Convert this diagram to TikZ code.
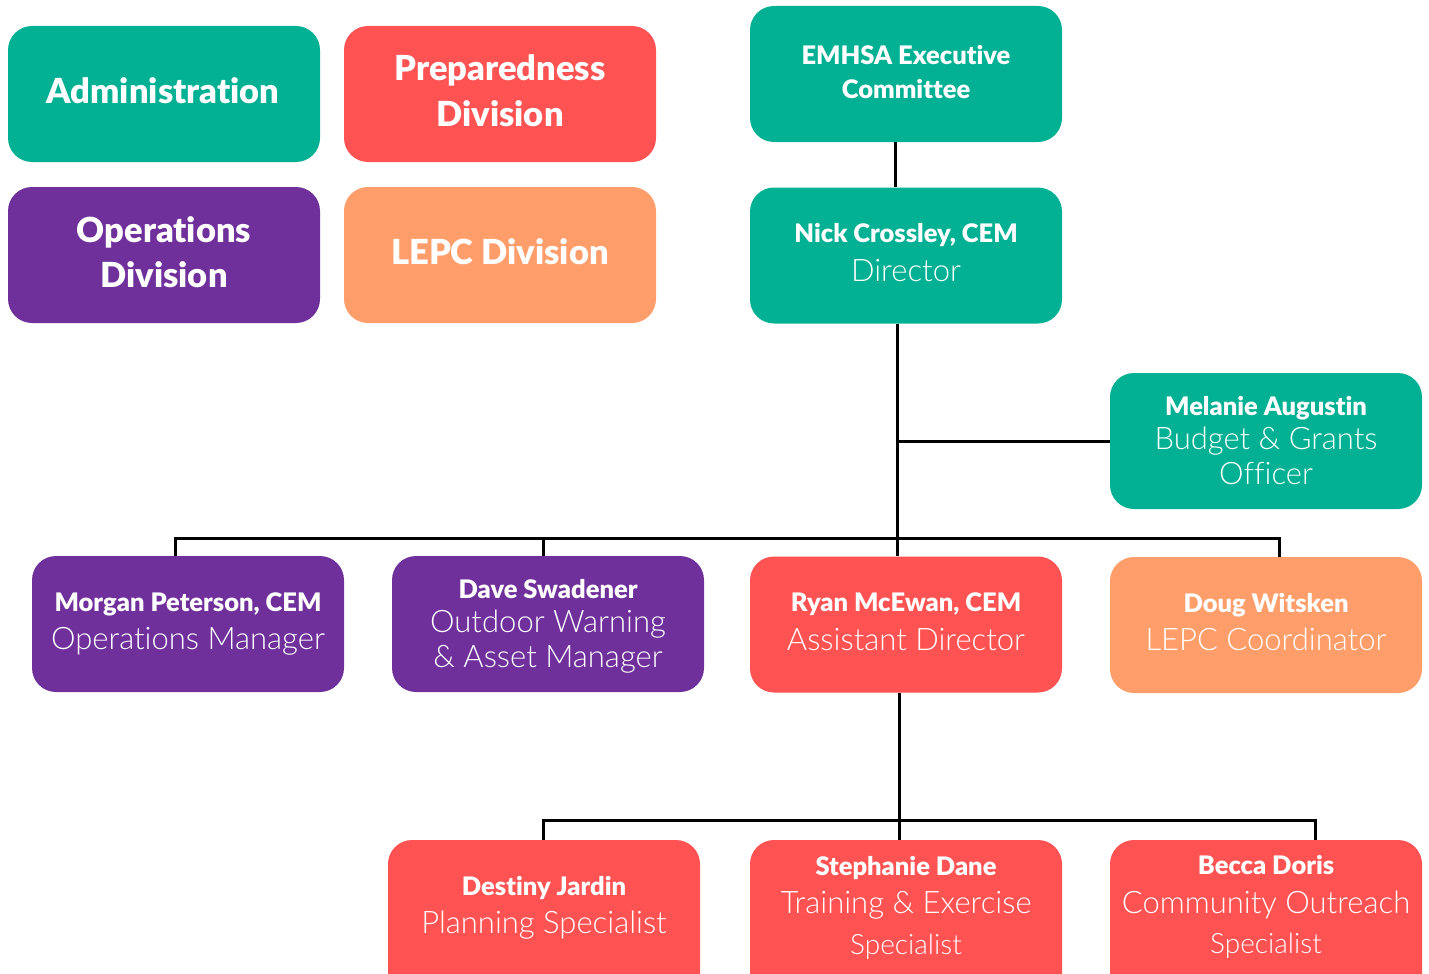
\documentclass[tikz,border=0pt]{standalone}
\usepackage{fontspec}
\setmainfont{Lato}[Ligatures=NoCommon]
\newfontfamily\lt{Lato Light}[Ligatures=NoCommon]
\newfontfamily\bk{Lato Black}[Ligatures=NoCommon]
\definecolor{teal}{HTML}{02B194}
\definecolor{coral}{HTML}{FF5252}
\definecolor{plum}{HTML}{70309C}
\definecolor{peach}{HTML}{FF9E6A}
\tikzset{
  box/.style={rounded corners=24pt, minimum width=312pt, minimum height=136pt, inner sep=0pt, draw=none},
  tx/.style={text=white, inner sep=0pt, anchor=base},
  big/.style={tx, font=\fontsize{34.5}{34.5}\selectfont\bk},
  nm/.style={tx, font=\fontsize{25.5}{25.5}\selectfont\bk},
  rl/.style={tx, font=\fontsize{31}{31}\selectfont\lt},
  sm/.style={tx, font=\fontsize{28}{28}\selectfont\lt},
  conn/.style={line width=3pt, black}
}
\begin{document}
\begin{tikzpicture}[x=1pt,y=-1pt]
\useasboundingbox (0,0) rectangle (1429,974);
\clip (0,0) rectangle (1429,974);
% boxes
\node[box, fill=teal] (adm) at (164,94) {};
\node[box, fill=coral] (prep) at (500,94) {};
\node[box, fill=plum] (ops) at (164,255) {};
\node[box, fill=peach] (lepc) at (500,255) {};
\node[box, fill=teal] (emhsa) at (906,74) {};
\node[box, fill=teal] (nick) at (906,255.5) {};
\node[box, fill=teal] (mel) at (1266,441) {};
\node[box, fill=plum] (morgan) at (188,624) {};
\node[box, fill=plum] (dave) at (548,624) {};
\node[box, fill=coral] (ryan) at (906,624.5) {};
\node[box, fill=peach] (doug) at (1266,625) {};
\node[box, fill=coral, minimum height=160pt] (destiny) at (544,920) {};
\node[box, fill=coral, minimum height=160pt] (steph) at (906,920) {};
\node[box, fill=coral, minimum height=160pt] (becca) at (1266,920) {};
% texts
\node[big] (admT) at (163,103) {Administration};
\node[big] (prepT1) at (500,81) {Preparedness};
\node[big] (prepT2) at (500,126) {Division};
\node[big] (opsT1) at (164,242) {Operations};
\node[big] (opsT2) at (164,287) {Division};
\node[big] (lepcT) at (500,264) {LEPC Division};
\node[nm] (emT1) at (906,64) {EMHSA Executive};
\node[nm] (emT2) at (906,98) {Committee};
\node[nm] (nickT1) at (906,242) {Nick Crossley, CEM};
\node[rl] (nickT2) at (906,281) {Director};
\node[nm] (melT1) at (1266,415) {Melanie Augustin};
\node[rl] (melT2) at (1266,449) {Budget \& Grants};
\node[rl] (melT3) at (1266,484) {Officer};
\node[nm] (morT1) at (188,611) {Morgan Peterson, CEM};
\node[rl] (morT2) at (188,649) {Operations Manager};
\node[nm] (davT1) at (548,598) {Dave Swadener};
\node[rl] (davT2) at (548,632) {Outdoor Warning};
\node[rl] (davT3) at (548,667) {\& Asset Manager};
\node[nm] (ryaT1) at (906,611) {Ryan McEwan, CEM};
\node[rl] (ryaT2) at (906,650) {Assistant Director};
\node[nm] (douT1) at (1266,612) {Doug Witsken};
\node[rl] (douT2) at (1266,650) {LEPC Coordinator};
\node[nm] (desT1) at (544,895) {Destiny Jardin};
\node[rl] (desT2) at (544,933) {Planning Specialist};
\node[nm] (steT1) at (906,875) {Stephanie Dane};
\node[rl] (steT2) at (906,913) {Training \& Exercise};
\node[sm] (steT3) at (906,954) {Specialist};
\node[nm] (becT1) at (1266,874) {Becca Doris};
\node[rl] (becT2) at (1266,913) {Community Outreach};
\node[sm] (becT3) at (1266,953) {Specialist};
% connectors
\coordinate (eS) at ([xshift=-11pt]emhsa.south);
\coordinate (nN) at ([xshift=-11pt]nick.north);
\draw[conn] (eS) -- (nN);
\coordinate (nS) at ([xshift=-9pt]nick.south);
\coordinate (rN) at ([xshift=-9pt]ryan.north);
\draw[conn] (nS) -- (rN);
\coordinate (j1) at (mel.west -| nS);
\draw[conn] (j1) -- (mel.west);
\coordinate (bus) at (0,538);
\coordinate (mL) at ([xshift=-13pt]morgan.north);
\coordinate (dL) at ([xshift=-5pt]dave.north);
\coordinate (oR) at ([xshift=13pt]doug.north);
\draw[conn] (mL) -- (mL |- bus) -- (oR |- bus) -- (oR);
\draw[conn] (dL |- bus) -- (dL);
\coordinate (rS) at ([xshift=-7pt]ryan.south);
\coordinate (sN) at ([xshift=-7pt]steph.north);
\draw[conn] (rS) -- (sN);
\coordinate (bus2) at (0,820);
\coordinate (deN) at ([xshift=-1pt]destiny.north);
\coordinate (bN) at ([xshift=49pt]becca.north);
\draw[conn] (deN) -- (deN |- bus2) -- (bN |- bus2) -- (bN);
\end{tikzpicture}
\end{document}
